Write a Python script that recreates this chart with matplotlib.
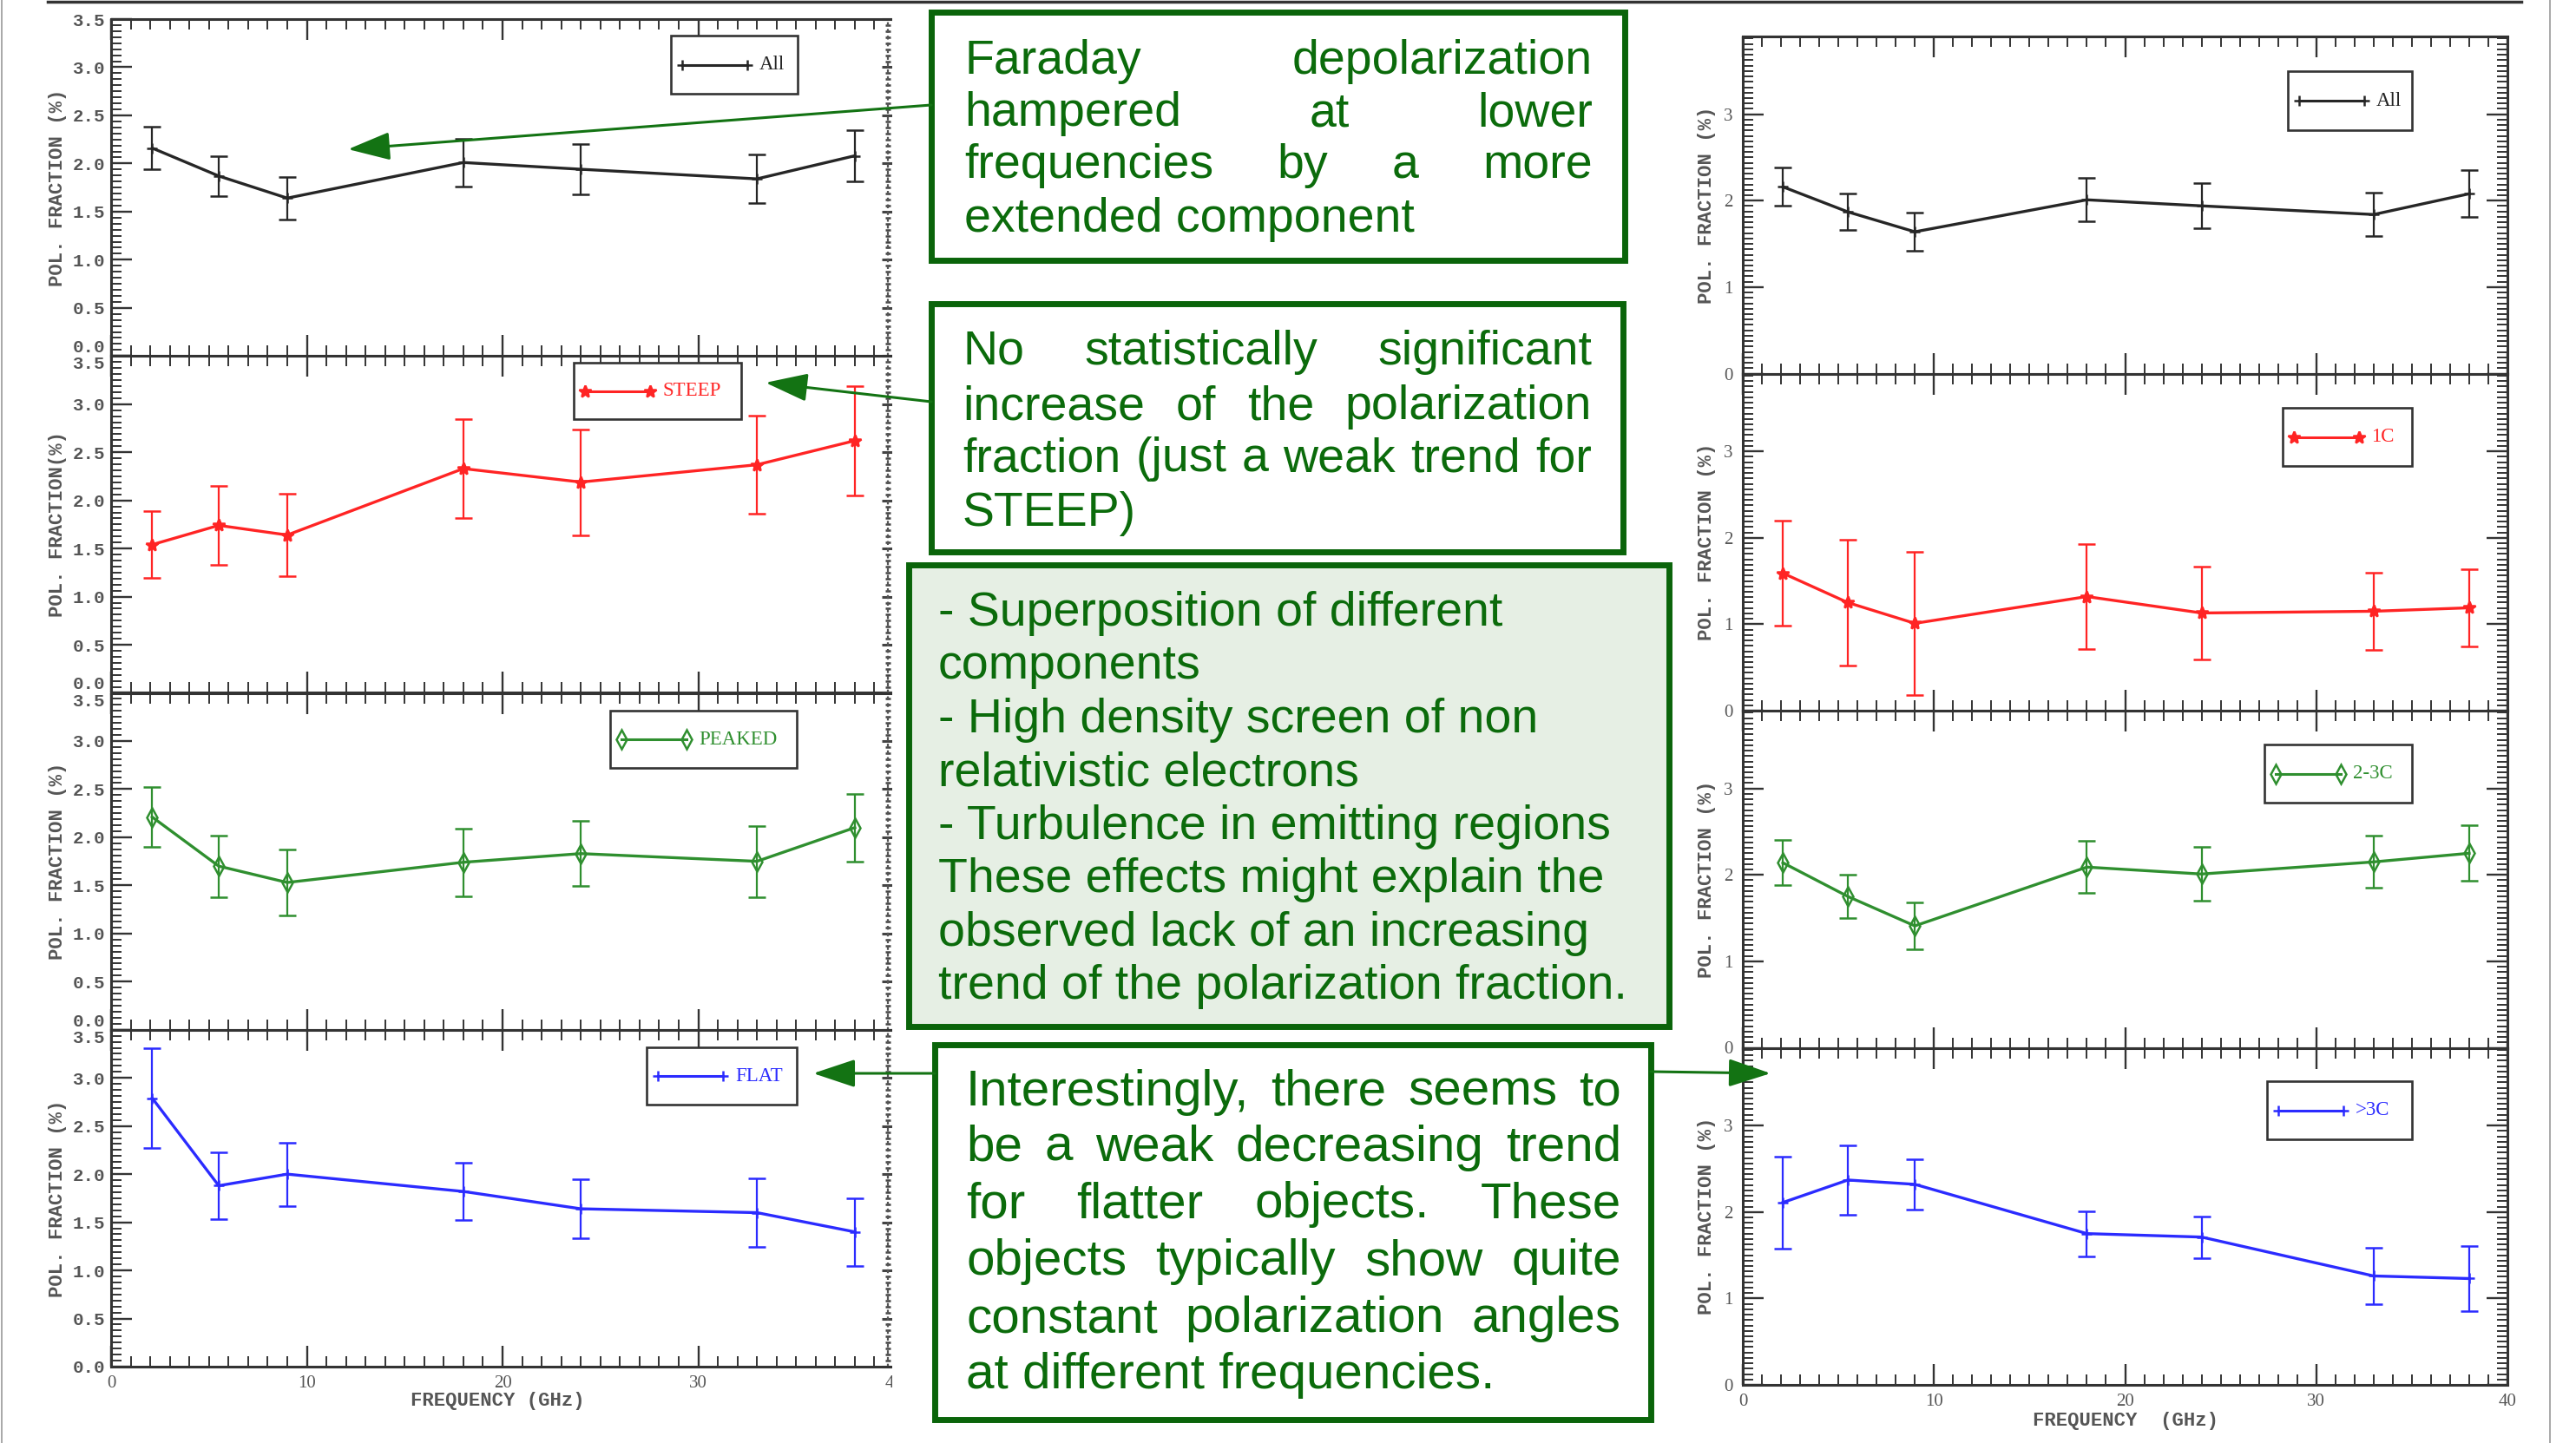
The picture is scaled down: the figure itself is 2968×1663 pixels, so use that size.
import matplotlib
matplotlib.use('Agg')
import matplotlib.pyplot as plt
from matplotlib.ticker import MultipleLocator, FixedLocator
from matplotlib.patches import Rectangle, FancyArrowPatch, ArrowStyle
from matplotlib.lines import Line2D

W, H, DPI = 2968, 1663, 100

# ---------------- data ----------------
freq_ghz = [2.1, 5.5, 9.0, 18.0, 24.0, 33.0, 38.0]

all_frac = [2.16, 1.87, 1.64, 2.01, 1.94, 1.84, 2.08]
all_err = [0.22, 0.21, 0.22, 0.25, 0.26, 0.25, 0.27]
steep_frac = [1.54, 1.74, 1.64, 2.33, 2.19, 2.37, 2.62]
steep_err = [0.35, 0.41, 0.43, 0.51, 0.55, 0.51, 0.57]
peaked_frac = [2.21, 1.70, 1.53, 1.74, 1.83, 1.75, 2.10]
peaked_err = [0.31, 0.32, 0.34, 0.35, 0.34, 0.37, 0.35]
flat_frac = [2.79, 1.88, 2.00, 1.82, 1.64, 1.60, 1.40]
flat_err = [0.52, 0.35, 0.33, 0.30, 0.31, 0.36, 0.35]
c1_frac = [1.59, 1.25, 1.01, 1.32, 1.13, 1.15, 1.19]
c1_err = [0.61, 0.73, 0.83, 0.61, 0.54, 0.45, 0.45]
c23_frac = [2.14, 1.75, 1.41, 2.09, 2.01, 2.15, 2.25]
c23_err = [0.26, 0.25, 0.27, 0.30, 0.31, 0.30, 0.32]
c3_frac = [2.11, 2.37, 2.32, 1.75, 1.71, 1.26, 1.23]
c3_err = [0.53, 0.40, 0.29, 0.26, 0.24, 0.33, 0.38]

left_labels = ["All", "STEEP", "PEAKED", "FLAT"]
right_labels = ["All", "1C", "2-3C", ">3C"]
left_ylabels = ["POL. FRACTION (%)", "POL. FRACTION(%)",
                "POL. FRACTION (%)", "POL. FRACTION (%)"]
right_ylabel = "POL. FRACTION (%)"
left_xlabel = "FREQUENCY (GHz)"
right_xlabel = "FREQUENCY  (GHz)"
left_yticks = [0.0, 0.5, 1.0, 1.5, 2.0, 2.5, 3.0, 3.5]
left_yticklabels = ["0.0", "0.5", "1.0", "1.5", "2.0", "2.5", "3.0", "3.5"]
right_yticks = [0, 1, 2, 3]
right_yticklabels = ["0", "1", "2", "3"]
xticks = [0, 10, 20, 30, 40]
xticklabels = ["0", "10", "20", "30", "40"]

box1_lines = ["Faraday depolarization", "hampered at lower",
              "frequencies by a more", "extended component"]
box2_lines = ["No statistically significant", "increase of the polarization",
              "fraction (just a weak trend for", "STEEP)"]
box3_lines = ["- Superposition of different", "components",
              "- High density screen of non", "relativistic electrons",
              "- Turbulence in emitting regions", "These effects might explain the",
              "observed lack of an increasing", "trend of the polarization fraction."]
box4_lines = ["Interestingly, there seems to", "be a weak decreasing trend",
              "for flatter objects. These", "objects typically show quite",
              "constant polarization angles", "at different frequencies."]

# ---------------- styles ----------------
BLACK, RED, GREEN, BLUE = '#262626', '#ff2424', '#2f8f2f', '#2b2bff'
TXTG = '#0b6b0b'
BOXG = '#0a640a'
GRAYT = '#555555'

left_data = [(all_frac, all_err), (steep_frac, steep_err),
             (peaked_frac, peaked_err), (flat_frac, flat_err)]
right_data = [(all_frac, all_err), (c1_frac, c1_err),
              (c23_frac, c23_err), (c3_frac, c3_err)]
styles = [dict(color=BLACK, marker='+', ms=8, mfc=BLACK),
          dict(color=RED, marker='*', ms=10, mfc=RED),
          dict(color=GREEN, marker='d', ms=11, mfc='none'),
          dict(color=BLUE, marker='+', ms=8, mfc=BLUE)]

left_leg_boxes = [(773, 41, 919, 108), (661, 418, 854, 483),
                  (703, 819, 918, 885), (745, 1207, 918, 1273)]
right_leg_boxes = [(2636, 82, 2779, 150), (2630, 470, 2779, 537),
                   (2609, 858, 2779, 925), (2612, 1246, 2779, 1313)]

fig = plt.figure(figsize=(W / DPI, H / DPI), dpi=DPI)
fig.patch.set_facecolor('white')


def fx(x):
    return x / W


def fy(y):
    return 1 - y / H


def add_ax(x0, x1, ytop, ybot):
    return fig.add_axes([fx(x0), fy(ybot), (x1 - x0) / W, (ybot - ytop) / H])


def base_style(ax, right_ticks):
    for sp in ax.spines.values():
        sp.set_linewidth(2.2)
        sp.set_color('#333333')
    ax.set_xlim(0, 40)
    ax.xaxis.set_major_locator(FixedLocator(xticks))
    ax.xaxis.set_minor_locator(MultipleLocator(1))
    ax.yaxis.set_minor_locator(MultipleLocator(0.0625))
    ax.tick_params(which='both', direction='in', top=True, bottom=True,
                   left=True, right=right_ticks, color='#333333')
    ax.tick_params(which='major', length=17, width=1.7)
    ax.tick_params(which='minor', length=8.5, width=1.4)


def draw_legend(box, label, st):
    x0, y0, x1, y1 = box
    fig.add_artist(Rectangle((fx(x0), fy(y1)), (x1 - x0) / W, (y1 - y0) / H,
                             transform=fig.transFigure, fc='white', ec='#333333',
                             lw=1.9, zorder=5))
    yc = (y0 + y1) / 2
    hx0 = x0 + 13
    hx1 = hx0 + 75
    fig.add_artist(Line2D([fx(hx0), fx(hx1)], [fy(yc), fy(yc)],
                          transform=fig.transFigure, color=st['color'], lw=2.2,
                          marker=st['marker'], ms=st['ms'], mfc=st['mfc'],
                          mec=st['color'], mew=1.8, zorder=6))
    fig.text(fx(hx1 + 14), fy(yc), label, color=st['color'], fontsize=16.5,
             family='Liberation Serif', va='center', ha='left', zorder=6)


def plot_series(ax, vals, errs, st):
    ax.errorbar(freq_ghz, vals, yerr=errs, color=st['color'], lw=2.4,
                marker=st['marker'], ms=st['ms'], mfc=st['mfc'], mec=st['color'],
                mew=1.8, elinewidth=1.6, capsize=7, capthick=2.2, zorder=3)


# ---------------- left column (image cropped at x~1028) ----------------
LX0, LX1 = 128, 1030
LSPINE = 1023
LCROP = 1028
ledges = [22 + i * 388.25 for i in range(5)]
for i in range(4):
    ax = add_ax(LX0, LX1, ledges[i], ledges[i + 1])
    base_style(ax, right_ticks=False)
    ax.set_ylim(0, 3.5)
    ax.set_yticks(left_yticks)
    ax.set_yticklabels(left_yticklabels, fontfamily='Liberation Mono',
                       fontweight='bold', fontsize=15, color=GRAYT)
    ax.tick_params(axis='y', pad=5)
    ax.spines['right'].set_visible(False)
    sec = ax.secondary_yaxis((LSPINE - LX0) / (LX1 - LX0))
    sec.set_yticks(left_yticks)
    sec.yaxis.set_minor_locator(MultipleLocator(0.0625))
    sec.tick_params(which='major', direction='inout', length=10, width=2.2,
                    labelright=False, color='#444444')
    sec.tick_params(which='minor', direction='inout', length=4, width=1.8,
                    color='#444444')
    sec.spines['right'].set_linestyle((0, (1, 2.5)))
    sec.spines['right'].set_color('#555555')
    sec.spines['right'].set_linewidth(1.6)

    vals, errs = left_data[i]
    plot_series(ax, vals, errs, styles[i])

    ax.set_ylabel(left_ylabels[i], fontfamily='Liberation Mono',
                  fontweight='bold', fontsize=16, color=GRAYT)
    ax.yaxis.set_label_coords(-0.056, 0.5)

    ticks = ax.yaxis.get_major_ticks()
    if i < 3:
        ticks[0].label1.set_va('bottom')
    if i > 0:
        ticks[-1].label1.set_va('top')

    if i == 3:
        ax.set_xticklabels(xticklabels, fontfamily='Liberation Serif',
                           fontsize=15, color=GRAYT)
        ax.tick_params(axis='x', pad=7)
        ax.set_xlabel(left_xlabel, fontfamily='Liberation Mono',
                      fontweight='bold', fontsize=16, color=GRAYT)
        ax.xaxis.set_label_coords(0.494, -0.075)
    else:
        ax.tick_params(axis='x', labelbottom=False)

    draw_legend(left_leg_boxes[i], left_labels[i], styles[i])

# white strip mimicking the crop of the left figure
fig.add_artist(Rectangle((fx(LCROP), 0), (1046 - LCROP) / W, fy(8),
                         transform=fig.transFigure, fc='white', ec='none', zorder=1))

# ---------------- right column ----------------
RX0, RX1 = 2008, 2889
redges = [42 + i * 388.5 for i in range(5)]
for i in range(4):
    ax = add_ax(RX0, RX1, redges[i], redges[i + 1])
    base_style(ax, right_ticks=True)
    ax.set_ylim(0, 3.9)
    ax.set_yticks(right_yticks)
    ax.set_yticklabels(right_yticklabels, fontfamily='Liberation Serif',
                       fontsize=15, color=GRAYT)
    ax.tick_params(axis='y', pad=8)
    vals, errs = right_data[i]
    plot_series(ax, vals, errs, styles[i])
    ax.set_ylabel(right_ylabel, fontfamily='Liberation Mono',
                  fontweight='bold', fontsize=16, color=GRAYT)
    ax.yaxis.set_label_coords(-0.035, 0.5)
    if i == 3:
        ax.set_xticklabels(xticklabels, fontfamily='Liberation Serif',
                           fontsize=15, color=GRAYT)
        ax.tick_params(axis='x', pad=7)
        ax.set_xlabel(right_xlabel, fontfamily='Liberation Mono',
                      fontweight='bold', fontsize=16, color=GRAYT)
        ax.xaxis.set_label_coords(0.5, -0.08)
    else:
        ax.tick_params(axis='x', labelbottom=False)
    draw_legend(right_leg_boxes[i], right_labels[i], styles[i])

# ---------------- slide frame ----------------
fig.add_artist(Line2D([fx(55), fx(2905)], [fy(2), fy(2)], transform=fig.transFigure,
                      color='#333333', lw=2.5, zorder=8))
fig.add_artist(Line2D([fx(2), fx(2)], [0, 1], transform=fig.transFigure,
                      color='#999999', lw=1.2, zorder=8))
fig.add_artist(Line2D([fx(2938), fx(2938)], [0, 1], transform=fig.transFigure,
                      color='#999999', lw=1.2, zorder=8))

# ---------------- text boxes ----------------
renderer = fig.canvas.get_renderer()


def text_box(rect, fc, lines, justify, baselines, xl, xr, size):
    x0, y0, x1, y1 = rect
    fig.add_artist(Rectangle((fx(x0), fy(y1)), (x1 - x0) / W, (y1 - y0) / H,
                             transform=fig.transFigure, fc=fc, ec=BOXG, lw=5,
                             zorder=4))
    for line, jus, yb in zip(lines, justify, baselines):
        words = line.split()
        if not jus or len(words) == 1:
            fig.text(fx(xl), fy(yb), line, fontsize=size, family='Liberation Sans',
                     color=TXTG, va='baseline', ha='left', zorder=6)
            continue
        ts = [fig.text(0, 0, w, fontsize=size, family='Liberation Sans', color=TXTG,
                       va='baseline', ha='left', zorder=6) for w in words]
        widths = [t.get_window_extent(renderer).width for t in ts]
        gap = (xr - xl - sum(widths)) / (len(words) - 1)
        x = xl
        for t, wd in zip(ts, widths):
            t.set_position((fx(x), fy(yb)))
            x += wd + gap


text_box((1073, 14, 1872, 300), 'white', box1_lines, [True, True, True, False],
         [85, 145, 205, 267], 1111, 1835, 40)
text_box((1073, 350, 1870, 636), 'white', box2_lines, [True, True, True, False],
         [420, 483, 543, 606], 1109, 1834, 40)
text_box((1047, 651, 1923, 1183), '#e6efe4', box3_lines, [False] * 8,
         [721, 782, 844, 905, 967, 1028, 1090, 1151], 1081, 1900, 40)
text_box((1077, 1204, 1902, 1636), 'white', box4_lines,
         [True, True, True, True, True, False],
         [1274, 1338, 1403, 1469, 1535, 1600], 1113, 1868, 42)

# ---------------- arrows ----------------
arrows = [((1073, 121), (401, 172)), ((1073, 463), (882, 441)),
          ((1077, 1237), (937, 1237)), ((1902, 1235), (2040, 1237))]
for (xa, ya), (xb, yb) in arrows:
    fig.add_artist(FancyArrowPatch(
        posA=(fx(xa), fy(ya)), posB=(fx(xb), fy(yb)), transform=fig.transFigure,
        arrowstyle=ArrowStyle('-|>', head_length=30, head_width=10),
        mutation_scale=1, lw=2.2, color='#137313', shrinkA=0, shrinkB=0,
        zorder=9))

fig.savefig('out.png', dpi=DPI, facecolor='white')
